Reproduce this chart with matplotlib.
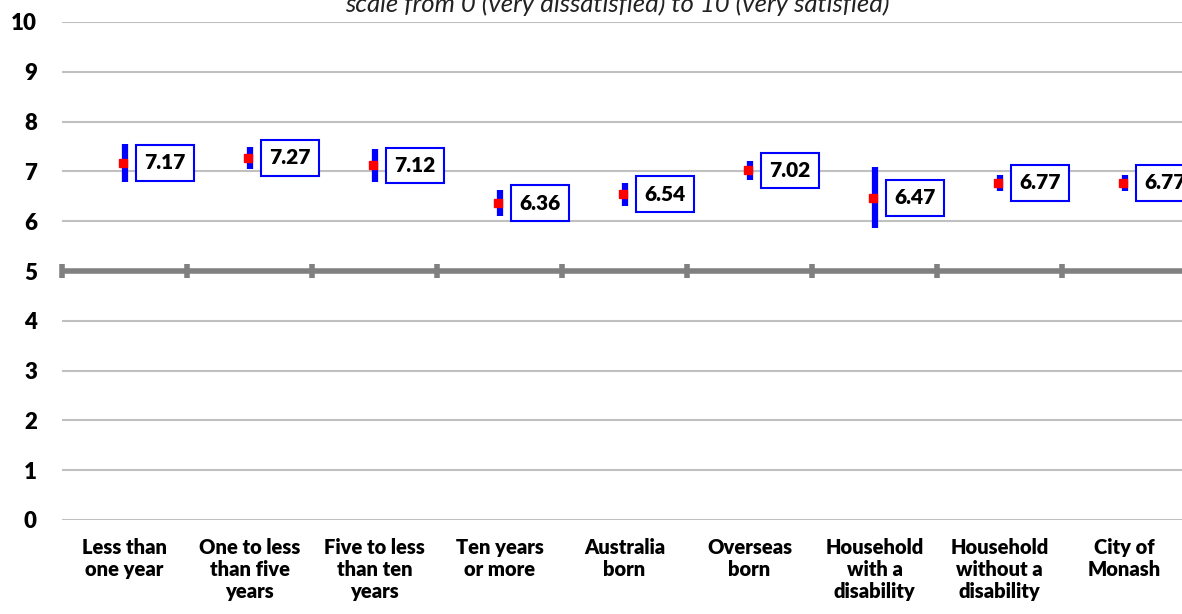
import matplotlib.pyplot as plt
import matplotlib.transforms as mtransforms

categories = ["Less than\none year", "One to less\nthan five\nyears", "Five to less\nthan ten\nyears",
              "Ten years\nor more", "Australia\nborn", "Overseas\nborn",
              "Household\nwith a\ndisability", "Household\nwithout a\ndisability", "City of\nMonash"]
means = [7.17, 7.27, 7.12, 6.36, 6.54, 7.02, 6.47, 6.77, 6.77]
errors = [0.39, 0.22, 0.33, 0.26, 0.23, 0.19, 0.61, 0.16, 0.16]
yticks = [0, 1, 2, 3, 4, 5, 6, 7, 8, 9, 10]
subtitle = "scale from 0 (very dissatisfied) to 10 (very satisfied)"

plt.rcParams['font.family'] = ['Lato', 'DejaVu Sans']

fig = plt.figure(figsize=(11.82, 6.14), dpi=100)
ax = fig.add_axes([62 / 1182, 1 - 520 / 614, 1125 / 1182, 498 / 614])

x = list(range(len(categories)))
ax.set_xlim(-0.5, len(categories) - 0.5)
ax.set_ylim(0, 10)

# grid lines
ax.set_yticks(yticks)
ax.yaxis.grid(True, color="#c0c0c0", linewidth=1.5, zorder=0)
ax.set_axisbelow(True)

# thick reference line at 5 with category dividers
ax.axhline(5, color="#808080", linewidth=4, zorder=1)
bounds = [i - 0.5 for i in range(len(categories) + 1)]
ax.plot(bounds, [5] * len(bounds), linestyle="none", marker="|", markersize=10,
        markeredgewidth=4, color="#808080", zorder=1, clip_on=False)

# error bars + means
ax.errorbar(x, means, yerr=errors, fmt="none", ecolor="#0000ff", elinewidth=4.5,
            capsize=0, zorder=3)
shift = mtransforms.offset_copy(ax.transData, fig=fig, x=-2, y=0, units="dots")
ax.plot(x, means, linestyle="none", marker="s", markersize=5.5, color="#ff0000",
        transform=shift, zorder=4)

for xi, m in zip(x, means):
    ax.annotate("%.2f" % m, xy=(xi, m), xytext=(20, 0), textcoords="offset pixels",
                ha="left", va="center", fontsize=15, fontweight="heavy",
                bbox=dict(boxstyle="square,pad=0.4", facecolor="white",
                          edgecolor="#0000ff", linewidth=1.5),
                zorder=5, annotation_clip=False)

ax.set_xticks(x)
ax.set_xticklabels(categories, fontsize=14.5, fontweight="heavy", linespacing=1.2, va="top")
ax.tick_params(axis="x", length=0, pad=13)
ax.tick_params(axis="y", length=0, pad=18, labelsize=16)
for lab in ax.get_yticklabels():
    lab.set_fontweight("heavy")

for s in ax.spines.values():
    s.set_visible(False)

fig.text(617 / 1182, 1 - 12 / 614, subtitle, ha="center", va="baseline",
         fontsize=18.5, style="italic", color="#222222")

fig.savefig("out.png", dpi=100)
